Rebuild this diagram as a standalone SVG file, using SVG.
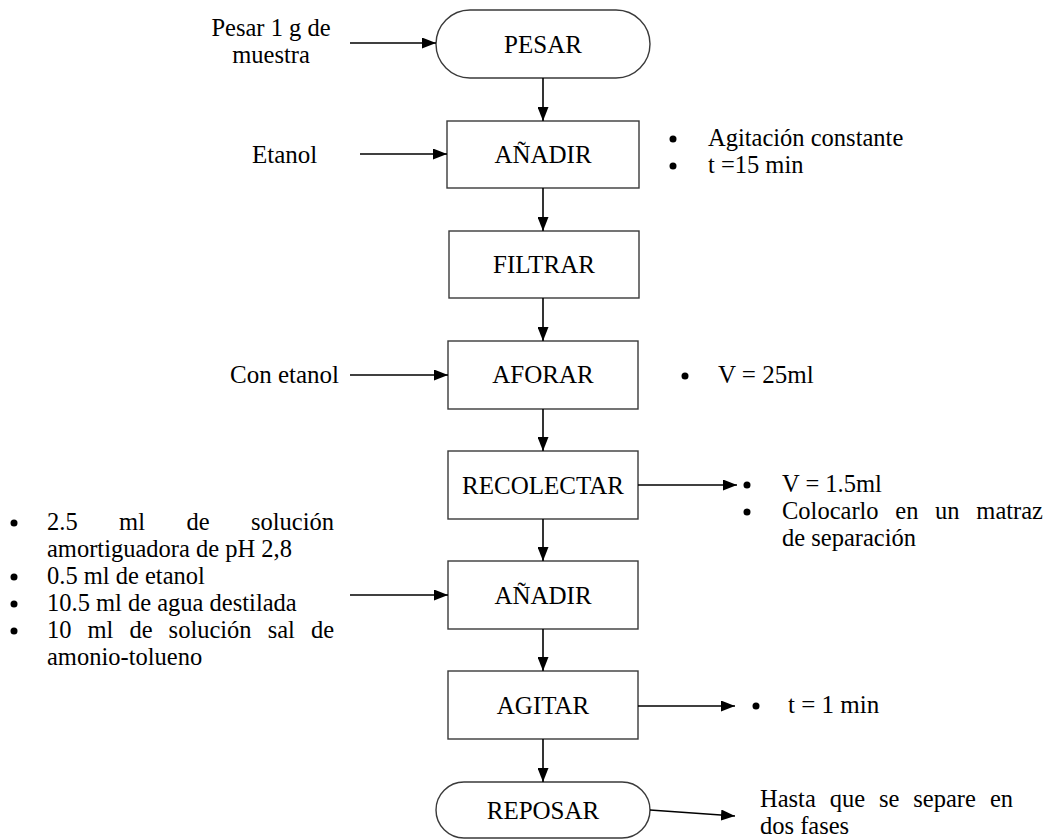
<svg xmlns="http://www.w3.org/2000/svg" width="1049" height="840" viewBox="0 0 1049 840">
  <style>
    text { font-family: "Liberation Serif", "Times New Roman", serif; font-size: 25px; fill: #000; }
    .sm { font-size: 24.5px; }
    .lbl { text-anchor: middle; }
    .box { fill: #fff; stroke: #3a3a3a; stroke-width: 1.4; }
    .con { fill: none; stroke: #000; stroke-width: 1.6; marker-end: url(#arrow); }
    .dot { fill: #000; }
  </style>
  <defs>
    <marker id="arrow" viewBox="0 0 14 11" refX="14" refY="5.5" markerWidth="14" markerHeight="11" markerUnits="userSpaceOnUse" orient="auto">
      <path d="M0,0 L14,5.5 L0,11 Z" fill="#000"/>
    </marker>
  </defs>

  <rect width="1049" height="840" fill="#fff"/>

  <!-- process steps -->
  <g id="pesar">
    <rect class="box" x="436" y="10" width="214" height="68" rx="34" ry="34"/>
    <text class="lbl" x="543" y="53">PESAR</text>
  </g>
  <g id="anadir1">
    <rect class="box" x="447" y="121" width="192" height="67"/>
    <text class="lbl" x="543" y="163">AÑADIR</text>
  </g>
  <g id="filtrar">
    <rect class="box" x="449" y="231" width="190" height="67"/>
    <text class="lbl" x="544" y="273">FILTRAR</text>
  </g>
  <g id="aforar">
    <rect class="box" x="448" y="341" width="190" height="68"/>
    <text class="lbl" x="543" y="383">AFORAR</text>
  </g>
  <g id="recolectar">
    <rect class="box" x="448" y="451" width="190" height="68"/>
    <text class="lbl" x="543" y="494">RECOLECTAR</text>
  </g>
  <g id="anadir2">
    <rect class="box" x="448" y="561" width="190" height="68"/>
    <text class="lbl" x="543" y="604">AÑADIR</text>
  </g>
  <g id="agitar">
    <rect class="box" x="448" y="671" width="190" height="68"/>
    <text class="lbl" x="543" y="714">AGITAR</text>
  </g>
  <g id="reposar">
    <rect class="box" x="436" y="782" width="214" height="56" rx="28" ry="28"/>
    <text class="lbl" x="543" y="819">REPOSAR</text>
  </g>

  <!-- inputs and notes -->
  <g id="in-muestra">
    <text class="lbl sm" x="271" y="36">Pesar 1 g de</text>
    <text class="lbl sm" x="271" y="63">muestra</text>
  </g>
  <g id="in-etanol">
    <text x="252" y="163">Etanol</text>
  </g>
  <g id="note-anadir1">
    <circle class="dot" cx="673" cy="139" r="3.5"/>
    <text class="sm" x="708" y="146">Agitación constante</text>
    <circle class="dot" cx="673" cy="166" r="3.5"/>
    <text class="sm" x="708" y="173">t =15 min</text>
  </g>
  <g id="in-con-etanol">
    <text x="230" y="383">Con etanol</text>
  </g>
  <g id="note-aforar">
    <circle class="dot" cx="685" cy="376" r="3.5"/>
    <text x="718" y="383">V = 25ml</text>
  </g>
  <g id="note-recolectar">
    <circle class="dot" cx="747" cy="485" r="3.5"/>
    <text class="sm" x="782" y="492">V = 1.5ml</text>
    <circle class="dot" cx="747" cy="512" r="3.5"/>
    <text class="sm" y="519"><tspan x="782">Colocarlo</tspan><tspan x="895.3">en</tspan><tspan x="935.1">un</tspan><tspan x="1043" text-anchor="end">matraz</tspan></text>
    <text class="sm" x="782" y="546">de separación</text>
  </g>
  <g id="in-reactivos">
    <circle class="dot" cx="14" cy="523" r="3.5"/>
    <text class="sm" y="530"><tspan x="47">2.5</tspan><tspan x="119.1">ml</tspan><tspan x="186.5">de</tspan><tspan x="334" text-anchor="end">solución</tspan></text>
    <text class="sm" x="47" y="557">amortiguadora de pH 2,8</text>
    <circle class="dot" cx="14" cy="577" r="3.5"/>
    <text class="sm" x="47" y="584">0.5 ml de etanol</text>
    <circle class="dot" cx="14" cy="604" r="3.5"/>
    <text class="sm" x="47" y="611">10.5 ml de agua destilada</text>
    <circle class="dot" cx="14" cy="631" r="3.5"/>
    <text class="sm" y="638"><tspan x="47">10</tspan><tspan x="87.5">ml</tspan><tspan x="129.5">de</tspan><tspan x="168.6">solución</tspan><tspan x="267.7">sal</tspan><tspan x="334" text-anchor="end">de</tspan></text>
    <text class="sm" x="47" y="665">amonio-tolueno</text>
  </g>
  <g id="note-agitar">
    <circle class="dot" cx="756" cy="706" r="3.5"/>
    <text x="788" y="713">t = 1 min</text>
  </g>
  <g id="note-reposar">
    <text class="sm" y="807"><tspan x="760">Hasta</tspan><tspan x="829.7">que</tspan><tspan x="879">se</tspan><tspan x="913.3">separe</tspan><tspan x="1013" text-anchor="end">en</tspan></text>
    <text class="sm" x="760" y="834">dos fases</text>
  </g>

  <!-- connectors -->
  <g id="connectors">
    <line class="con" x1="350" y1="43" x2="436" y2="43"/>
    <line class="con" x1="543" y1="78" x2="543" y2="121"/>
    <line class="con" x1="360" y1="154" x2="447" y2="154"/>
    <line class="con" x1="543" y1="188" x2="543" y2="231"/>
    <line class="con" x1="543" y1="298" x2="543" y2="341"/>
    <line class="con" x1="350" y1="375" x2="448" y2="375"/>
    <line class="con" x1="543" y1="409" x2="543" y2="451"/>
    <line class="con" x1="638" y1="485" x2="737" y2="485"/>
    <line class="con" x1="543" y1="519" x2="543" y2="561"/>
    <line class="con" x1="350" y1="595" x2="448" y2="595"/>
    <line class="con" x1="543" y1="629" x2="543" y2="671"/>
    <line class="con" x1="638" y1="706" x2="735" y2="706"/>
    <line class="con" x1="543" y1="739" x2="543" y2="782"/>
    <line class="con" x1="650" y1="810" x2="735" y2="816"/>
  </g>
</svg>
